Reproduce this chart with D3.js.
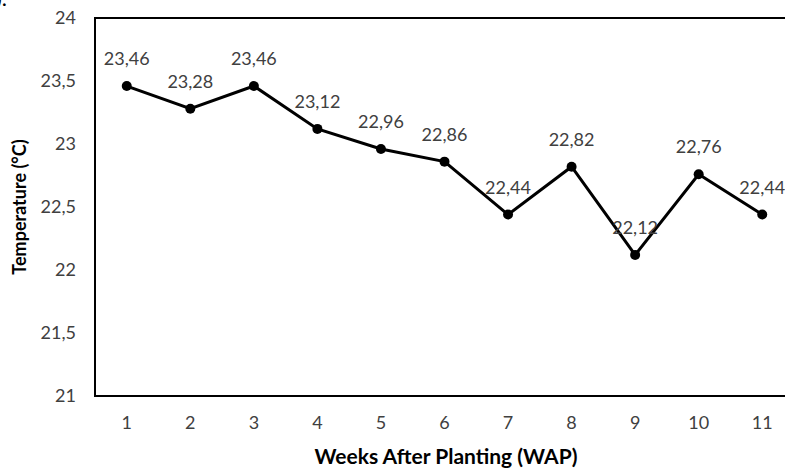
<html>
<head>
<script src="https://cdn.jsdelivr.net/npm/d3@7"></script>
<style>
  body { margin: 0; background: #fff; }
  text { font-family: Lato, "Open Sans", sans-serif; fill: #404040; }
</style>
</head>
<body>
<svg id="container" width="785" height="470"></svg>
<script>
    let weeks = ["1", "2", "3", "4", "5", "6", "7", "8", "9", "10", "11"]
    let temps = [23.46, 23.28, 23.46, 23.12, 22.96, 22.86, 22.44, 22.82, 22.12, 22.76, 22.44]
    let yTicks = [21, 21.5, 22, 22.5, 23, 23.5, 24]

    let svg = d3.select("#container")
    let plotLeft = 95, plotTop = 18, plotBottom = 396, plotRight = 794

    let x = d3.scaleBand().domain(weeks).range([plotLeft, plotRight])
    let y = d3.scaleLinear().domain([21, 24]).range([plotBottom, plotTop])
    let fmt = v => String(v).replace(".", ",")

    // bit of the page caption that shows at the top-left corner
    svg.append("text").attr("x", -4).attr("y", 6).style("font-size", "22px").style("fill", "#000").text(").")

    // frame
    svg.append("rect").attr("x", plotLeft).attr("y", plotTop)
        .attr("width", plotRight - plotLeft).attr("height", plotBottom - plotTop)
        .style("fill", "none").style("stroke", "#000").style("stroke-width", 2)

    let yAxis = d3.axisLeft(y).tickValues(yTicks).tickFormat(fmt).tickSize(0).tickPadding(19)
    svg.append("g").attr("transform", `translate(${plotLeft},0)`).call(yAxis)
        .call(g => g.select(".domain").remove())
        .selectAll("text").style("font-size", "18px").style("font-family", "Lato, sans-serif")

    let xAxis = d3.axisBottom(x).tickSize(0).tickPadding(20)
    svg.append("g").attr("transform", `translate(0,${plotBottom})`).call(xAxis)
        .call(g => g.select(".domain").remove())
        .selectAll("text").style("font-size", "18px").style("font-family", "Lato, sans-serif")

    let cx = d => x(d) + x.bandwidth() / 2
    let line = d3.line().x((d, i) => cx(weeks[i])).y(d => y(d))
    svg.append("path").datum(temps).attr("d", line)
        .style("fill", "none").style("stroke", "#000").style("stroke-width", 3)

    svg.selectAll("circle.pt").data(temps).enter().append("circle")
        .attr("cx", (d, i) => cx(weeks[i])).attr("cy", d => y(d)).attr("r", 5)
        .style("fill", "#000")

    svg.selectAll("text.lbl").data(temps).enter().append("text")
        .attr("x", (d, i) => cx(weeks[i])).attr("y", d => y(d) - 21)
        .attr("text-anchor", "middle").style("font-size", "18px")
        .text(fmt)

    svg.append("text").attr("transform", "translate(26,207) rotate(-90)")
        .attr("text-anchor", "middle").style("font-size", "18px").style("font-weight", "bold")
        .style("fill", "#000")
        .text("Temperature (°C)")
    svg.append("text").attr("x", 446).attr("y", 464)
        .attr("text-anchor", "middle").style("font-size", "21px").style("font-weight", "bold")
        .style("fill", "#000")
        .text("Weeks After Planting (WAP)")
</script>
</body>
</html>
